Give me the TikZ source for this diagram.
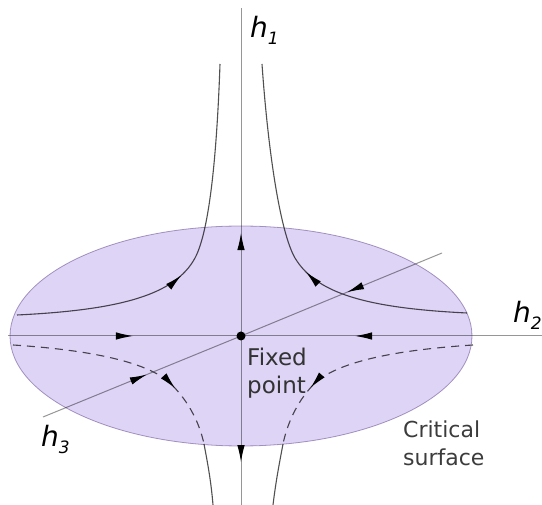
\documentclass[tikz,border=0pt]{standalone}
\usepackage{fontspec}
\setmainfont{DejaVu Sans}
\usetikzlibrary{arrows.meta, decorations.markings}
\definecolor{surf}{RGB}{222,212,246}
\definecolor{surfedge}{RGB}{175,160,195}
\definecolor{axisgray}{RGB}{150,150,150}
\definecolor{flowgray}{RGB}{80,80,80}
\definecolor{txtgray}{RGB}{60,60,60}

\newcommand{\hlab}[1]{\textit{h}\raisebox{-7pt}{\fontsize{17}{17}\selectfont\textit{#1}}}

\begin{document}
\begin{tikzpicture}[
  x=1pt, y=-1pt,
  >={Latex[length=17pt, width=7.5pt, color=black]},
  axis/.style={draw=axisgray, line width=1pt},
  flow/.style={draw=flowgray, line width=1.1pt},
  behind/.style={flow, dash pattern=on 8pt off 6pt},
  tipat/.style={postaction={decorate}, decoration={markings,
      mark=at position #1 with {\arrow{>}}}},
  tipback/.style={postaction={decorate}, decoration={markings,
      mark=at position #1 with {\arrowreversed{>}}}},
  axlabel/.style={anchor=base west, inner sep=0pt, font=\fontsize{28}{30}\selectfont},
  caption/.style={anchor=north west, inner sep=0pt, align=left,
      text=txtgray, font=\fontsize{22}{28}\selectfont}
]
\useasboundingbox (0,0) rectangle (542,505);

% Axes through the fixed point
\coordinate (fp) at (241,336);
\coordinate (v-top) at (241,8);
\coordinate (v-bot) at (241,505);
\coordinate (u-left) at (8,336);
\coordinate (u-right) at (542,336);
\coordinate (w-left) at (43,417);
\coordinate (w-right) at (442,253);

\draw[axis, tipat=0.314] (fp) -- (v-top);
\draw[axis, tipat=0.746] (fp) -- (v-bot);
\draw[axis, tipback=0.464] (fp) -- (u-left);
\draw[axis, tipback=0.379] (fp) -- (u-right);
\draw[axis, tipback=0.476] (fp) -- (w-left);
\draw[axis, tipback=0.528] (fp) -- (w-right);

% Flows above the surface
\draw[flow, tipat=0.44] (17,315) .. controls (120,310) and (175,295) .. (195,258)
  .. controls (210,230) and (217,150) .. (220,64);
\draw[flow, tipat=0.44] (467,313) .. controls (365,308) and (316,293) .. (295,258)
  .. controls (280,232) and (268,150) .. (262,64);

% Flows below the surface
\draw[behind, tipat=0.73] (13,345) .. controls (90,350) and (150,362) .. (172,385)
  .. controls (190,403) and (200,425) .. (204,444);
\draw[flow] (204,444) .. controls (207,460) and (211,480) .. (213,505);
\draw[behind, tipat=0.73] (473,345) .. controls (395,350) and (335,362) .. (313,385)
  .. controls (296,403) and (287,425) .. (283,444);
\draw[flow] (283,444) .. controls (280,460) and (276,480) .. (273,505);

% Critical surface
\filldraw[fill=surf, draw=surfedge, line width=0.8pt, blend mode=multiply]
  (fp) ellipse [x radius=231, y radius=110];
\fill (fp) circle (4.5);

% Labels
\node[axlabel] (lab1) at (250,38) {\hlab{1}};
\node[axlabel] (lab2) at (513,323) {\hlab{2}};
\node[axlabel] (lab3) at (41,447) {\hlab{3}};
\node[caption, text=black!80, font=\fontsize{23}{28}\selectfont] (fixtxt) at (247,348) {Fixed\\point};
\node[caption] (crittxt) at (403,421) {Critical\\surface};

\end{tikzpicture}
\end{document}
